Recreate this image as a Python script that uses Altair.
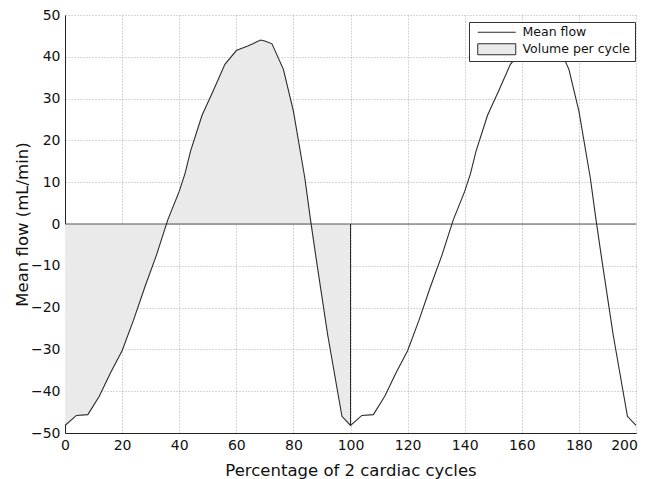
import altair as alt
import pandas as pd

# First cardiac cycle (percentage of 2 cycles, mean flow mL/min)
pct_c1 = [0, 4, 8, 12, 16, 20, 24, 28, 32, 36, 40, 42, 44, 48, 52, 56, 60, 64, 66,
          68.5, 70, 72.5, 76.5, 80, 84, 86, 88, 92, 97, 100]
flow_c1 = [-48.2, -45.8, -45.6, -41.2, -35.5, -30.3, -23.0, -15.0, -7.5, 1.0, 7.8, 12.0,
           17.5, 26.0, 32.0, 38.2, 41.5, 42.6, 43.2, 44.0, 43.8, 43.1, 37.0, 27.0, 11.0,
           1.0, -8.4, -26.5, -46.0, -48.2]
# Second cardiac cycle
pct_c2 = [104, 108, 112, 116, 120, 124, 128, 132, 136, 140, 142, 144, 148, 152, 156, 160,
          164, 166, 168.5, 170, 172.5, 176.5, 180, 184, 186, 188, 192, 197, 200]
flow_c2 = [-45.8, -45.6, -41.2, -35.5, -30.3, -23.0, -15.0, -7.5, 1.0, 7.8, 12.0, 17.5,
           26.0, 32.0, 38.2, 41.5, 42.6, 43.2, 44.0, 43.8, 43.1, 37.0, 27.0, 11.0, 1.0,
           -8.4, -26.5, -46.0, -48.2]

x_ticks = [0, 20, 40, 60, 80, 100, 120, 140, 160, 180, 200]
y_ticks = [-50, -40, -30, -20, -10, 0, 10, 20, 30, 40, 50]
legend_items = ["Mean flow", "Volume per cycle"]
zero_level = [0]

df_c1 = pd.DataFrame({"pct": pct_c1, "flow": flow_c1})
df_all = pd.DataFrame({"pct": pct_c1 + pct_c2, "flow": flow_c1 + flow_c2})
df_zero = pd.DataFrame({"flow": zero_level})
df_leg = pd.DataFrame({"series": legend_items})

FONT = "DejaVu Sans"
LINE = "#2b2b2b"
FILL = "#ebeaea"

x_enc = alt.X(
    "pct:Q",
    scale=alt.Scale(domain=[0, 200], nice=False, zero=False),
    axis=alt.Axis(values=x_ticks, title="Percentage of 2 cardiac cycles",
                  titleX=285.5, titleY=42, titleBaseline="alphabetic",
                  labelOffset=alt.expr("datum.value == 200 ? -12 : 0")),
)
y_enc = alt.Y(
    "flow:Q",
    scale=alt.Scale(domain=[-50, 50], nice=False),
    axis=alt.Axis(values=y_ticks, title="Mean flow (mL/min)",
                  titleX=-38, titleY=209, titleBaseline="alphabetic"),
)

area = alt.Chart(df_c1).mark_area(color=FILL).encode(x=x_enc, y=y_enc, y2=alt.datum(0))

zero_rule = alt.Chart(df_zero).mark_rule(color="#555555", strokeWidth=1).encode(
    y=alt.Y("flow:Q")
)

edge = (
    alt.Chart(df_c1)
    .transform_filter(alt.datum.pct == 100)
    .mark_rule(color=LINE, strokeWidth=1)
    .encode(x="pct:Q", y="flow:Q", y2=alt.datum(0))
)

line = alt.Chart(df_all).mark_line(color=LINE, strokeWidth=1.1).encode(x=x_enc, y=y_enc)

leg_props = dict(
    title=None,
    orient="none",
    legendX=404,
    legendY=7,
    strokeColor="#333333",
    fillColor="#ffffff",
    padding=4,
    symbolSize=100,
    symbolOffset=17.5,
    labelOffset=19.5,
    labelFont=FONT,
    labelFontSize=12.5,
    labelColor="#111111",
    rowPadding=2,
    symbolStrokeWidth=1,
    symbolOpacity=1,
)
legend_layer = (
    alt.Chart(df_leg)
    .transform_filter("false")
    .mark_point(filled=False, strokeWidth=1, opacity=1)
    .encode(
        shape=alt.Shape(
            "series:N",
            scale=alt.Scale(domain=legend_items,
                            range=["M-3.8,0H3.8", "M-3.8,-1.1H3.8V1.1H-3.8Z"]),
            legend=alt.Legend(**leg_props),
        ),
        fill=alt.Fill(
            "series:N",
            scale=alt.Scale(domain=legend_items, range=["transparent", FILL]),
            legend=alt.Legend(**leg_props),
        ),
        stroke=alt.Stroke(
            "series:N",
            scale=alt.Scale(domain=legend_items, range=[LINE, LINE]),
            legend=alt.Legend(**leg_props),
        ),
    )
)

chart = (
    alt.layer(area, zero_rule, edge, line, legend_layer)
    .properties(
        width=571,
        height=418,
        padding={"left": 57, "top": 7, "right": 2, "bottom": 46},
        autosize=alt.AutoSizeParams(type="none"),
        background="#ffffff",
    )
    .configure_view(fill="#fefef3", stroke=None)
    .configure_axis(
        labelFont=FONT,
        titleFont=FONT,
        labelFontSize=14,
        titleFontSize=16.5,
        titleFontWeight="normal",
        labelColor="#111111",
        titleColor="#111111",
        domainColor="#222222",
        domainWidth=1,
        tickSize=0,
        labelPadding=5,
        gridColor="#9a9a9a",
        gridDash=[1, 2],
        gridWidth=0.8,
        labelFlush=False,
        labelOverlap=False,
    )
)

chart.save("out.html", embed_options={"renderer": "svg", "actions": False})
